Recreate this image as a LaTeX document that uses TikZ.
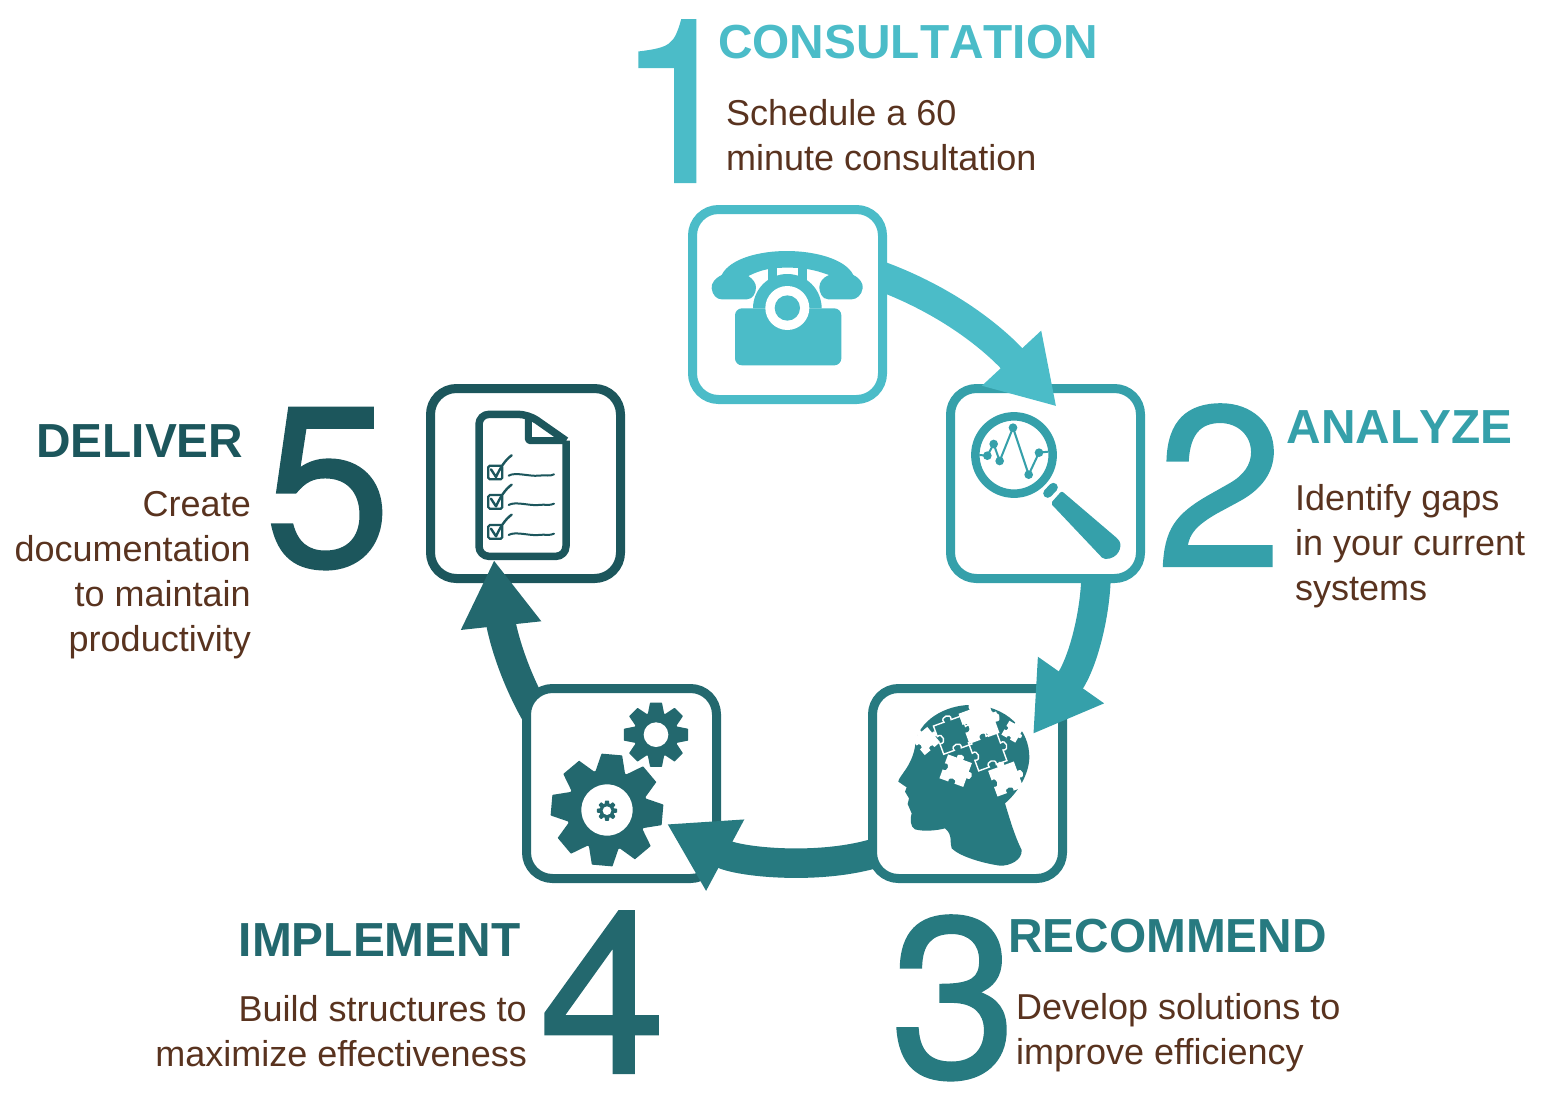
\documentclass[tikz,border=0pt]{standalone}
\usepackage{fontspec}
\setmainfont{Liberation Sans}
\newfontfamily\headfont[Kerning=Off]{Liberation Sans}
\newfontfamily\numfont[FakeBold=1]{TeX Gyre Heros}
\usetikzlibrary{arrows.meta,calc}
\definecolor{cA}{HTML}{4BBCC8}
\definecolor{cB}{HTML}{35A0AA}
\definecolor{cC}{HTML}{277A80}
\definecolor{cD}{HTML}{23686E}
\definecolor{cE}{HTML}{1C565C}
\definecolor{txt}{HTML}{59331F}
\pgfdeclarelayer{la}\pgfdeclarelayer{lb}\pgfdeclarelayer{lc}\pgfdeclarelayer{ld}\pgfdeclarelayer{le}
\pgfdeclarelayer{lf}\pgfdeclarelayer{lg}\pgfdeclarelayer{lh}\pgfdeclarelayer{li}
\pgfsetlayers{la,lb,lc,ld,le,lf,lg,lh,li,main}
\tikzset{
  tile/.style={draw=#1,fill=white,line width=9pt,rounded corners=26pt,minimum width=190pt,minimum height=190pt,inner sep=0pt,outer sep=0pt},
  flow/.style={draw=#1,line width=29.5pt,-{Triangle[length=66pt,width=76pt]}},
  bignum/.style={anchor=base west,inner sep=0pt,text=#1,font=\numfont\fontsize{228}{228}\selectfont},
  headl/.style={inner sep=0pt,text=#1,font=\headfont\fontsize{47.8}{47.8}\selectfont\bfseries},
  bodyl/.style={inner sep=0pt,text=txt,font=\fontsize{36}{45}\selectfont},
}
\newcommand\jigpiece[5]{\begin{scope}[shift={(#1,#2)},rotate=#3,scale=#4]
  \path[#5] (-1,-1) -- (-.25,-1) .. controls (-.45,-1.45) and (.45,-1.45) .. (.25,-1) -- (1,-1) -- (1,-.25) .. controls (1.45,-.45) and (1.45,.45) .. (1,.25) -- (1,1) -- (.25,1) .. controls (.45,.55) and (-.45,.55) .. (-.25,1) -- (-1,1) -- (-1,.25) .. controls (-.55,.45) and (-.55,-.45) .. (-1,-.25) -- cycle;
\end{scope}}
\newcommand\gearicon[7]{% cx cy rot rout rbody rhole colour
  \begin{scope}[shift={(#1,#2)},rotate=#3]
    \fill[#7] (0,0) circle[radius=#5];
    \foreach \k in {0,45,...,315}{
      \fill[#7,rounded corners=.5pt] (\k-22:#5-2) -- (\k-10.5:#4) -- (\k+10.5:#4) -- (\k+22:#5-2) -- cycle;
    }
    \fill[white] (0,0) circle[radius=#6];
  \end{scope}}
\begin{document}
\begin{tikzpicture}[x=1pt,y=-1pt]
\useasboundingbox (0,0) rectangle (1550,1100);
% tiles, stacked so that each arrow leaves from under one tile and lands on the next
\begin{pgfonlayer}{la}\node[tile=cE] (b5) at (525.5,483.5) {};\end{pgfonlayer}
\begin{pgfonlayer}{lc}\node[tile=cD] (b4) at (621.5,783.5) {};\end{pgfonlayer}
\begin{pgfonlayer}{le}\node[tile=cC] (b3) at (967.5,783.5) {};\end{pgfonlayer}
\begin{pgfonlayer}{lg}\node[tile=cB] (b2) at (1045.5,483.5) {};\end{pgfonlayer}
\begin{pgfonlayer}{li}\node[tile=cA] (b1) at (787.5,304.5) {};\end{pgfonlayer}
% arrows
\begin{pgfonlayer}{lh}
\draw[flow=cA] ($(b1.east)+(-2,-28.5)$) .. controls (945,300) and (990,335) .. ($(b2.north)+(11,18)$);
\end{pgfonlayer}
\begin{pgfonlayer}{lf}
\draw[flow=cB] ($(b2.south)+(50.5,-1)$) .. controls (1095,615) and (1083,663) .. ($(b3.north east)+(-29.5,45.5)$);
\end{pgfonlayer}
\begin{pgfonlayer}{ld}
\draw[flow=cC] ($(b3.west)+(0,70.5)$) .. controls (815,870) and (738,862) .. ($(b4.east)+(-49.5,40.5)$);
\end{pgfonlayer}
\begin{pgfonlayer}{lb}
\draw[flow=cD] ($(b4.north west)+(15,35)$) .. controls (510,672) and (501,625) .. ($(b5.south)+(-31.5,-18.5)$);
\end{pgfonlayer}
% phone
\begin{scope}[shift={(680,200)},scale=1/3]
  \fill[cA] (125,225) .. controls (150,175) and (240,153) .. (320,153) .. controls (400,153) and (495,175) .. (520,225)
    .. controls (540,235) and (550,250) .. (548,265) .. controls (545,285) and (530,298) .. (515,298) -- (445,298)
    .. controls (425,298) and (418,275) .. (418,262) .. controls (418,245) and (430,232) .. (447,225)
    .. controls (400,208) and (370,203) .. (322,203) .. controls (275,203) and (245,208) .. (205,228)
    .. controls (220,238) and (228,250) .. (228,262) .. controls (228,280) and (218,298) .. (200,298) -- (125,298)
    .. controls (110,298) and (97,285) .. (95,265) .. controls (93,250) and (105,235) .. (125,225) -- cycle;
  \fill[cA] (219,325) arc[start angle=180,end angle=360,radius=103] -- cycle;
  \fill[cA] (265,205) rectangle (290,260);
  \fill[cA] (355,205) rectangle (380,260);
  \fill[cA,rounded corners=7pt] (165,325) rectangle (484,496);
  \fill[white] (322,324) circle[radius=66];
  \fill[cA] (322,324) circle[radius=38];
\end{scope}
% magnifier
\begin{scope}[shift={(940,380)},scale=1/3]
  \draw[cB,line width=8.5pt] (222,225) circle[radius=116];
  \draw[cB,line width=2pt] (118,225) -- (142,227) -- (161,192) -- (179,243) -- (219,143) -- (266,284) -- (297,218) -- (325,215);
  \foreach \px/\py in {142/227,161/192,179/243,219/143,266/284,297/218}{\fill[cB] (\px,\py) circle[radius=13];}
  \draw[cB,line width=9pt,line cap=round] (323,340) -- (340,322);
  \fill[cB,rounded corners=2pt] (332,370) -- (365,333) -- (535,478) .. controls (548,500) and (535,537) .. (490,537) -- cycle;
\end{scope}
% head
\begin{scope}[shift={(860,680)},scale=1/3]
  \fill[cC] (165,200) .. controls (170,120) and (260,75) .. (330,75) .. controls (440,75) and (510,150) .. (508,235)
    .. controls (505,290) and (470,340) .. (435,370) .. controls (450,420) and (465,470) .. (485,510)
    .. controls (487,540) and (450,558) .. (420,557) .. controls (370,550) and (300,530) .. (275,505)
    .. controls (268,490) and (280,465) .. (255,445) .. controls (230,452) and (190,455) .. (165,448)
    .. controls (150,440) and (150,415) .. (155,400) -- (143,372) -- (147,355) -- (135,335) -- (140,322) -- (115,305)
    .. controls (115,290) and (155,260) .. (165,200) -- cycle;
  \jigpiece{357}{130}{20}{48}{fill=white}
  \jigpiece{278}{165}{20}{45}{draw=white,line width=1.4pt}
  \jigpiece{383}{215}{20}{45}{draw=white,line width=1.4pt}
  \jigpiece{287}{272}{-20}{38}{fill=white}
  \jigpiece{437}{297}{20}{41}{fill=white}
  \jigpiece{198}{183}{40}{30}{fill=white}
  \jigpiece{457}{155}{-30}{24}{fill=white}
  \jigpiece{345}{82}{10}{17}{fill=white}
  \jigpiece{400}{112}{20}{14}{fill=white}
\end{scope}
% gears
\begin{scope}[shift={(515,680)},scale=1/3]
  \gearicon{423}{164}{0}{98}{68}{37}{cD}
  \gearicon{276}{390}{-5}{170}{122}{77}{cD}
  \gearicon{276}{392}{0}{31}{22}{13}{cD}
\end{scope}
% document
\begin{scope}[shift={(420,380)},scale=1/3]
  \draw[cE,line width=7.5pt,line join=round] (438,182) [rounded corners=10pt] -- (438,529) -- (177,529) -- (177,103) -- (325,103) [sharp corners] -- (438,182);
  \draw[cE,line width=7pt,line join=round,rounded corners=1.5pt] (325,103) -- (325,182) -- (438,182);
  \foreach \dy in {0,88,178}{
    \begin{scope}[yshift=-\dy*1pt]
      \draw[cE,line width=2.2pt,rounded corners=1.5pt] (205,257) rectangle (247,298);
      \draw[cE,line width=2.4pt,line cap=round,line join=round] (213,268) -- (228,291) .. controls (240,265) and (255,240) .. (275,226);
      \draw[cE,line width=2pt,line cap=round] (266,287) .. controls (285,275) and (330,290) .. (355,287) .. controls (375,284) and (390,290) .. (402,283);
    \end{scope}
  }
\end{scope}
% big numerals
\node[bignum=cA] (n1) at (616,182) {1};
\node[bignum=cB] (n2) at (1156,566) {2};
\node[bignum=cC] (n3) at (890,1077) {3};
\node[bignum=cD] (n4) at (539,1073) {4};
\node[bignum=cE] (n5) at (264,566) {5};
% headings
\node[headl=cA,anchor=base west] (h1) at (718,58) {CONSULTATION};
\node[headl=cB,anchor=base west] (h2) at (1286.5,443.5) {ANALYZE};
\node[headl=cC,anchor=base west] (h3) at (1008,952.5) {RECOMMEND};
\node[headl=cD,anchor=base east] (h4) at (520.5,956) {IMPLEMENT};
\node[headl=cE,anchor=base east] (h5) at (243.5,457.5) {DELIVER};
% descriptions
\node[bodyl,anchor=north west,align=left] (t1) at (726,99) {Schedule a 60\\minute consultation};
\node[bodyl,anchor=north west,align=left] (t2) at (1295,484) {Identify gaps\\in your current\\systems};
\node[bodyl,anchor=north west,align=left] (t3) at (1016,993) {Develop solutions to\\improve efficiency};
\node[bodyl,anchor=north east,align=right] (t4) at (527,995) {Build structures to\\maximize effectiveness};
\node[bodyl,anchor=north east,align=right] (t5) at (251,491) {Create\\documentation\\to maintain\\productivity};
\end{tikzpicture}
\end{document}
